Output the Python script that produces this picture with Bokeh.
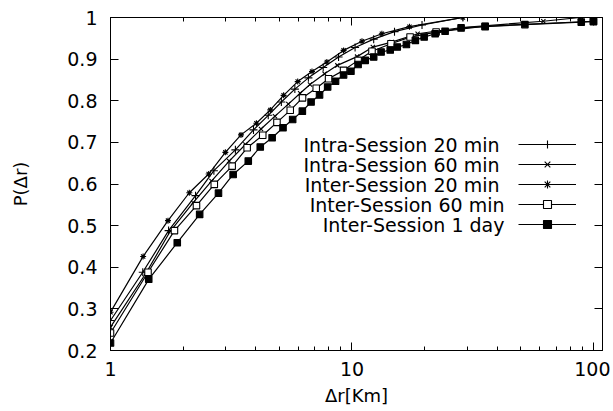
from bokeh.plotting import figure
from bokeh.models import (Range1d, FixedTicker, CustomJSTickFormatter, LinearAxis, LogAxis,
                          Legend, LegendItem, Label)
from bokeh.embed import file_html
from bokeh.resources import INLINE

# ---- data ----
names = ["Intra-Session 20 min", "Intra-Session 60 min", "Inter-Session 20 min",
         "Inter-Session 60 min", "Inter-Session 1 day"]

intra20_x = [1, 1.36, 1.74, 2.25, 2.68, 3.29, 3.91, 4.5, 5.1, 5.8, 6.6, 7.6, 8.8, 10.3, 12.3, 15.0, 19.5, 28.8]
intra20_y = [0.272, 0.388, 0.488, 0.572, 0.632, 0.682, 0.730, 0.765, 0.797, 0.828, 0.855, 0.880, 0.905,
             0.928, 0.948, 0.966, 0.982, 1.0]

intra60_x = [1, 1.40, 1.77, 2.2, 2.62, 3.1, 3.62, 4.2, 4.8, 5.45, 6.1, 6.7, 7.7, 8.7, 10.5, 12.2, 14.6,
             18.7, 28.5, 62, 88]
intra60_y = [0.256, 0.385, 0.487, 0.555, 0.607, 0.655, 0.695, 0.732, 0.763, 0.792, 0.818, 0.839, 0.865,
             0.885, 0.906, 0.929, 0.941, 0.961, 0.976, 0.991, 1.0]

inter20_x = [1, 1.365, 1.73, 2.12, 2.55, 2.99, 3.47, 4.02, 4.59, 5.21, 5.96, 6.83, 7.87, 9.23, 11.0,
             13.3, 17.3, 28.8]
inter20_y = [0.292, 0.426, 0.512, 0.579, 0.624, 0.676, 0.718, 0.746, 0.778, 0.813, 0.846, 0.870, 0.893,
             0.921, 0.943, 0.961, 0.978, 1.0]

inter60_x = [1, 1.43, 1.84, 2.27, 2.69, 3.19, 3.68, 4.27, 4.89, 5.55, 6.24, 7.11, 8.0, 9.23, 10.6, 12.1,
             14.5, 17.4, 22.3, 35.6, 100]
inter60_y = [0.242, 0.388, 0.488, 0.548, 0.599, 0.643, 0.687, 0.717, 0.748, 0.777, 0.807, 0.830, 0.853,
             0.873, 0.897, 0.919, 0.937, 0.953, 0.965, 0.979, 0.991]

inter1d_x = [1, 1.44, 1.89, 2.34, 2.80, 3.22, 3.72, 4.17, 4.67, 5.18, 5.68, 6.23, 6.77, 7.34, 7.93, 8.55,
             9.23, 9.9, 10.6, 11.35, 12.3, 13.2, 14.4, 15.4, 16.8, 18.3, 19.9, 22.1, 24.3, 28.3, 35.6, 52,
             89, 100]
inter1d_y = [0.218, 0.371, 0.459, 0.527, 0.578, 0.623, 0.655, 0.689, 0.711, 0.735, 0.755, 0.775, 0.797,
             0.814, 0.833, 0.847, 0.862, 0.871, 0.887, 0.897, 0.905, 0.917, 0.922, 0.929, 0.935, 0.945,
             0.953, 0.961, 0.967, 0.975, 0.978, 0.983, 0.989, 0.99]

x_major = [1, 10, 100]
x_minor = [2, 3, 4, 5, 6, 7, 8, 9, 20, 30, 40, 50, 60, 70, 80, 90]
y_ticks = [0.2, 0.3, 0.4, 0.5, 0.6, 0.7, 0.8, 0.9, 1.0]
x_title = "Δr[Km]"
y_title = "P(Δr)"

FONT = "DejaVu Sans"
FS = "19px"

p = figure(width=610, height=411, x_axis_type="log",
           x_range=Range1d(1, 109), y_range=Range1d(0.2, 1.0),
           output_backend="svg", toolbar_location=None,
           min_border_left=110, min_border_right=8, min_border_top=17, min_border_bottom=61)
p.xgrid.visible = False
p.ygrid.visible = False
p.outline_line_color = "black"
p.outline_line_width = 1
p.background_fill_color = "white"
p.border_fill_color = "white"

xfmt = CustomJSTickFormatter(code="return String(Math.round(tick));")
yfmt = CustomJSTickFormatter(code="return (Math.round(tick*10)/10).toString();")
blank = CustomJSTickFormatter(code="return '';")


def style_axis(ax):
    ax.axis_line_color = "black"
    ax.major_tick_in = 8
    ax.major_tick_out = 0
    ax.minor_tick_in = 4
    ax.minor_tick_out = 0
    ax.major_tick_line_color = "black"
    ax.minor_tick_line_color = "black"
    ax.major_label_text_font = FONT
    ax.major_label_text_font_size = FS
    ax.major_label_text_color = "black"
    ax.axis_label_text_font = FONT
    ax.axis_label_text_font_size = "18px"
    ax.axis_label_text_font_style = "normal"
    ax.axis_label_text_color = "black"


xa = p.xaxis[0]
xa.ticker = FixedTicker(ticks=x_major, minor_ticks=x_minor)
xa.formatter = xfmt
style_axis(xa)
xa.major_label_standoff = 11
xa.axis_label = x_title
xa.axis_label_standoff = 6

ya = p.yaxis[0]
ya.ticker = FixedTicker(ticks=y_ticks)
ya.formatter = yfmt
style_axis(ya)
ya.minor_tick_in = 0
ya.major_label_standoff = 13
ya.axis_label = y_title
ya.axis_label_standoff = 33

top = LogAxis(ticker=FixedTicker(ticks=x_major, minor_ticks=x_minor), formatter=blank)
style_axis(top)
top.major_label_text_font_size = "1px"
top.major_label_standoff = 0
p.add_layout(top, "above")

right = LinearAxis(ticker=FixedTicker(ticks=y_ticks), formatter=blank)
style_axis(right)
right.minor_tick_in = 0
right.major_label_text_font_size = "1px"
right.major_label_standoff = 0
p.add_layout(right, "right")

series = [
    (intra20_x, intra20_y, dict(marker="cross", size=8, line_color="black", fill_color="black")),
    (intra60_x, intra60_y, dict(marker="x", size=6, line_color="black", fill_color="black")),
    (inter20_x, inter20_y, dict(marker="asterisk", size=6, line_color="black", fill_color="black")),
    (inter60_x, inter60_y, dict(marker="square", size=6.5, line_color="black", fill_color="white")),
    (inter1d_x, inter1d_y, dict(marker="square", size=6.5, line_color="black", fill_color="black")),
]

items = []
for (xs, ys, mk) in series:
    lr = p.line(xs, ys, line_color="black", line_width=1.2)
    sr = p.scatter(xs, ys, line_width=1.1, **mk)
    items.append(LegendItem(label=" ", renderers=[lr, sr]))

legend = Legend(items=items, location=(408, 116), orientation="vertical",
                glyph_width=58, glyph_height=20, label_width=0, label_height=20,
                label_standoff=0, spacing=0, padding=0, margin=0,
                border_line_color=None, background_fill_alpha=0,
                label_text_font_size="1px")
p.add_layout(legend, "center")

label_right = [389, 389, 389, 394, 394]
for i, name in enumerate(names):
    p.add_layout(Label(x=label_right[i], y=206 - 20 * i, x_units="screen", y_units="screen",
                       text=name, text_align="right", text_baseline="middle",
                       text_font=FONT, text_font_size=FS, text_color="black"))

open("out.html", "w").write(file_html(p, INLINE))
